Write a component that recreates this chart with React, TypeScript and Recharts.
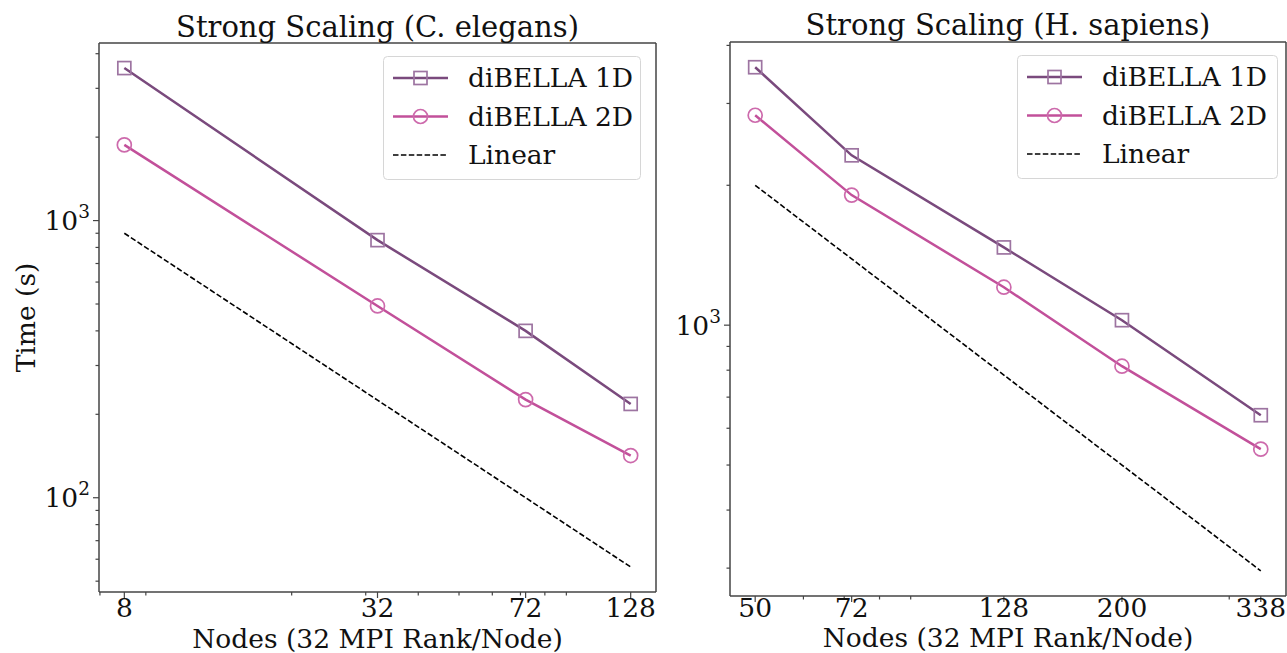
import React from 'react';
import { LineChart, Line, XAxis, YAxis, Legend, Label } from 'recharts';

const FONT = '"DejaVu Serif", serif';
const FS = 26.5;
const TITLE_FS = 29;
const C1 = '#7a4a7d';
const C1M = '#9d74a1';
const C2 = '#c2509a';
const C2M = '#cd6aac';
const SPINE = '#444';

const seriesNames = ['diBELLA 1D', 'diBELLA 2D', 'Linear'];

// Left: C. elegans
const leftNodes = [8, 32, 72, 128];
const left1D = [3550, 850, 400, 218];
const left2D = [1875, 492, 226, 142];
const leftLinear = [900, 225, 100, 56.25];
const leftXMajor = [8, 32, 72, 128];
const leftXMinor = [7, 9, 20, 30, 40, 50, 60, 70, 80, 90];
const leftYMajor = [100, 1000];
const leftYMinor = [50, 60, 70, 80, 90, 200, 300, 400, 500, 600, 700, 800, 900, 2000, 3000, 4000];
const leftXDomain = [6.964, 147.03];
const leftYDomain = [45.7, 4372];

// Right: H. sapiens
const rightNodes = [50, 72, 128, 200, 338];
const right1D = [3590, 2320, 1470, 1025, 640];
const right2D = [2830, 1905, 1207, 816, 541];
const rightLinear = [2000, 1389, 781, 500, 296];
const rightXMajor = [50, 72, 128, 200, 338];
const rightXMinor = [60, 70, 80, 90, 300];
const rightYMajor = [1000];
const rightYMinor = [300, 400, 500, 600, 700, 800, 900, 2000, 3000, 4000];
const rightXDomain = [45.46, 371.8];
const rightYDomain = [261.3, 4068];

const expLabels: Record<number, string> = { 100: '2', 1000: '3' };

function build(nodes: number[], a: number[], b: number[], c: number[]) {
  return nodes.map((n, i) => ({ n, d1: a[i], d2: b[i], lin: c[i] }));
}

const squareDot = (color: string) => (props: any) => {
  const { cx, cy, index } = props;
  if (cx == null || cy == null) return <g key={`s${index}`} />;
  return (
    <rect key={`s${index}`} x={cx - 6.5} y={cy - 6.5} width={13} height={13} fill="none" stroke={color} strokeWidth={1.7} />
  );
};

const circleDot = (color: string) => (props: any) => {
  const { cx, cy, index } = props;
  if (cx == null || cy == null) return <g key={`c${index}`} />;
  return <circle key={`c${index}`} cx={cx} cy={cy} r={7} fill="none" stroke={color} strokeWidth={1.7} />;
};

const makeXTick = (majors: number[], labelDy: number) => (props: any) => {
  const { x, y, payload } = props;
  const v = payload.value;
  const isMajor = majors.includes(v);
  return (
    <g>
      <line x1={x} x2={x} y1={y} y2={y + (isMajor ? 6 : 3.5)} stroke={SPINE} strokeWidth={1.2} />
      {isMajor && (
        <text x={x} y={y + labelDy} textAnchor="middle" fontFamily={FONT} fontSize={FS} fill="#111">
          {v}
        </text>
      )}
    </g>
  );
};

const makeYTick = (majors: number[]) => (props: any) => {
  const { x, y, payload } = props;
  const v = payload.value;
  const isMajor = majors.includes(v);
  return (
    <g>
      <line x1={x} x2={x - (isMajor ? 6 : 3.5)} y1={y} y2={y} stroke={SPINE} strokeWidth={1.2} />
      {isMajor && (
        <text x={x - 9} y={y + 9.5} textAnchor="end" fontFamily={FONT} fontSize={FS} fill="#111">
          10
          <tspan fontSize={18.5} dy={-12}>
            {expLabels[v]}
          </tspan>
        </text>
      )}
    </g>
  );
};

const LegendBox = ({ w }: { w: number }) => {
  const rows = [0, 1, 2];
  return (
    <svg width={w + 1} height={125} style={{ display: 'block' }}>
      <rect x={0.5} y={0.5} width={w} height={123} rx={4} fill="rgba(255,255,255,0.85)" stroke="#d6d6d6" strokeWidth={1} />
      {rows.map((i) => {
        const cy = 22 + i * 38.5;
        return (
          <g key={i}>
            {i === 0 && (
              <g>
                <line x1={10} x2={65} y1={cy} y2={cy} stroke={C1} strokeWidth={2.5} />
                <rect x={31} y={cy - 6.5} width={13} height={13} fill="none" stroke={C1M} strokeWidth={1.7} />
              </g>
            )}
            {i === 1 && (
              <g>
                <line x1={10} x2={65} y1={cy} y2={cy} stroke={C2} strokeWidth={2.5} />
                <circle cx={37.5} cy={cy} r={7} fill="none" stroke={C2M} strokeWidth={1.7} />
              </g>
            )}
            {i === 2 && <line x1={10} x2={65} y1={cy} y2={cy} stroke="#000" strokeWidth={1.6} strokeDasharray="5.5 2.4" />}
            <text x={85} y={cy + 9} fontFamily={FONT} fontSize={FS} fill="#111">
              {seriesNames[i]}
            </text>
          </g>
        );
      })}
    </svg>
  );
};

type PanelProps = {
  width: number;
  margin: { top: number; right: number; bottom: number; left: number };
  data: any[];
  title: string;
  xDomain: number[];
  yDomain: number[];
  xMajor: number[];
  xMinor: number[];
  yMajor: number[];
  yMinor: number[];
  showYLabel: boolean;
  legendLeft: number;
  legendTop: number;
  legendW: number;
  tickDy: number;
  labelDy: number;
  titleDy: number;
};

const Panel = (p: PanelProps) => {
  const xTicks = [...p.xMajor, ...p.xMinor].sort((a, b) => a - b);
  const yTicks = [...p.yMajor, ...p.yMinor].sort((a, b) => a - b);
  return (
    <LineChart width={p.width} height={653} data={p.data} margin={p.margin} style={{ fontFamily: FONT }}>
      <XAxis
        dataKey="n"
        type="number"
        scale="log"
        domain={p.xDomain}
        allowDataOverflow
        ticks={xTicks}
        interval={0}
        tickSize={0}
        tickMargin={0}
        tickLine={false}
        height={1}
        axisLine={{ stroke: SPINE, strokeWidth: 1.5 }}
        tick={makeXTick(p.xMajor, p.tickDy)}
      >
        <Label
          content={(lp: any) => {
            const vb = lp.viewBox || {};
            return (
              <text x={vb.x + vb.width / 2} y={vb.y + p.labelDy} textAnchor="middle" fontFamily={FONT} fontSize={FS} fill="#111">
                Nodes (32 MPI Rank/Node)
              </text>
            );
          }}
        />
      </XAxis>
      <XAxis
        xAxisId="top"
        orientation="top"
        type="number"
        domain={[0, 1]}
        tick={false}
        tickLine={false}
        height={1}
        axisLine={{ stroke: SPINE, strokeWidth: 1.5 }}
      >
        <Label
          content={(lp: any) => {
            const vb = lp.viewBox || {};
            return (
              <text x={vb.x + vb.width / 2} y={vb.y + vb.height - p.titleDy} textAnchor="middle" fontFamily={FONT} fontSize={TITLE_FS} fill="#111">
                {p.title}
              </text>
            );
          }}
        />
      </XAxis>
      <YAxis
        type="number"
        scale="log"
        domain={p.yDomain}
        allowDataOverflow
        ticks={yTicks}
        interval={0}
        tickSize={0}
        tickMargin={0}
        tickLine={false}
        width={1}
        axisLine={{ stroke: SPINE, strokeWidth: 1.5 }}
        tick={makeYTick(p.yMajor)}
      >
        {p.showYLabel && (
          <Label
            content={(lp: any) => {
              const vb = lp.viewBox || {};
              const cx = 25;
              const cy = vb.y + vb.height / 2;
              return (
                <text x={cx} y={cy} transform={`rotate(-90 ${cx} ${cy})`} textAnchor="middle" dominantBaseline="central" fontFamily={FONT} fontSize={FS} fill="#111">
                  Time (s)
                </text>
              );
            }}
          />
        )}
      </YAxis>
      <YAxis
        yAxisId="r"
        orientation="right"
        type="number"
        domain={[0, 1]}
        tick={false}
        tickLine={false}
        width={1}
        axisLine={{ stroke: SPINE, strokeWidth: 1.5 }}
      />
      <Line dataKey="d1" stroke={C1} strokeWidth={2.5} dot={squareDot(C1M)} activeDot={false} isAnimationActive={false} />
      <Line dataKey="d2" stroke={C2} strokeWidth={2.5} dot={circleDot(C2M)} activeDot={false} isAnimationActive={false} />
      <Line
        dataKey="lin"
        stroke="#000"
        strokeWidth={1.6}
        strokeDasharray="5.5 2.4"
        dot={false}
        activeDot={false}
        isAnimationActive={false}
      />
      <Legend
        layout="vertical"
        align="center"
        verticalAlign="middle"
        wrapperStyle={{ position: 'absolute', left: p.legendLeft, top: p.legendTop, width: p.legendW + 1, height: 125 }}
        content={() => <LegendBox w={p.legendW} />}
      />
    </LineChart>
  );
};

export default function App() {
  const leftData = build(leftNodes, left1D, left2D, leftLinear);
  const rightData = build(rightNodes, right1D, right2D, rightLinear);
  return (
    <div style={{ position: 'absolute', left: 0, top: 0, width: 1287, height: 653, background: '#fff', overflow: 'hidden' }}>
      <div style={{ position: 'absolute', left: 0, top: 0 }}>
        <Panel
          width={660}
          margin={{ top: 42, right: 3, bottom: 60, left: 98 }}
          data={leftData}
          title="Strong Scaling (C. elegans)"
          xDomain={leftXDomain}
          yDomain={leftYDomain}
          xMajor={leftXMajor}
          xMinor={leftXMinor}
          yMajor={leftYMajor}
          yMinor={leftYMinor}
          showYLabel={true}
          legendLeft={383}
          legendTop={56}
          legendW={257}
          tickDy={25}
          labelDy={56}
          titleDy={6}
        />
      </div>
      <div style={{ position: 'absolute', left: 660, top: 0 }}>
        <Panel
          width={627}
          margin={{ top: 41, right: 0, bottom: 56, left: 69 }}
          data={rightData}
          title="Strong Scaling (H. sapiens)"
          xDomain={rightXDomain}
          yDomain={rightYDomain}
          xMajor={rightXMajor}
          xMinor={rightXMinor}
          yMajor={rightYMajor}
          yMinor={rightYMinor}
          showYLabel={false}
          legendLeft={357}
          legendTop={55}
          legendW={260}
          tickDy={21}
          labelDy={51}
          titleDy={7}
        />
      </div>
    </div>
  );
}
